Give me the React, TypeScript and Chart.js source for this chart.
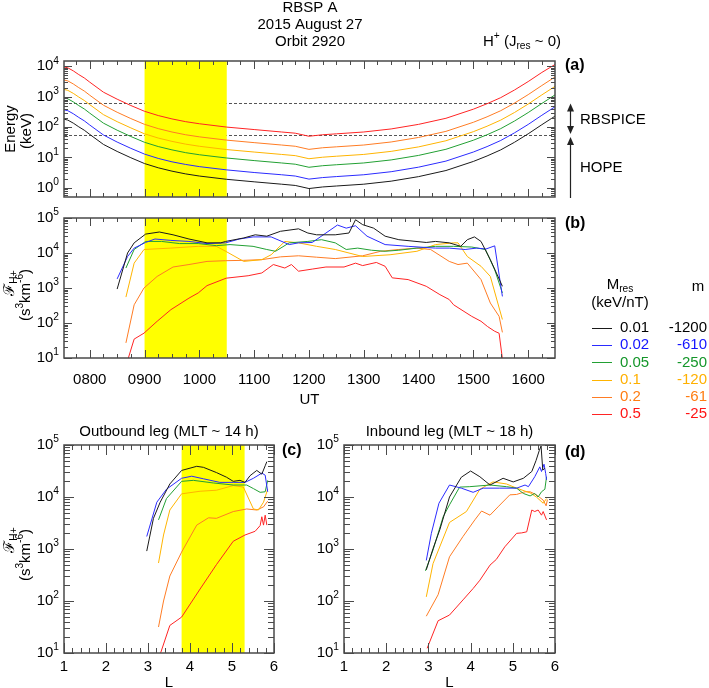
import React, { useEffect, useRef } from 'react';
import { Chart, registerables } from 'chart.js';

Chart.register(...registerables);

const W = 709;
const H = 688;
const FONT = '"Liberation Sans", Arial, Helvetica, sans-serif';
const AXIS = '#4a4a4a';

const SERIES_COLORS = ['#1a1a1a', '#2b2bff', '#22a033', '#ffb400', '#ff7c24', '#ff2424'];
const TEXT_COLORS = ['#000000', '#1414ff', '#14962a', '#ffb000', '#ff7d12', '#ff1414'];
const mresLabels = ['0.01', '0.02', '0.05', '0.1', '0.2', '0.5'];
const mLabels = ['-1200', '-610', '-250', '-120', '-61', '-25'];

// instrument energy limits (keV)
const RBSPICE_HIGH = 600;
const RBSPICE_LOW = 55;

// ---------- Panel (a): resonant energy vs UT ----------
const utA = [7.53, 7.6, 7.7, 7.8, 7.9, 8.0, 8.25, 8.5, 8.75, 9.0, 9.25, 9.5, 9.75, 10.0, 10.5, 11.0, 11.5, 11.75, 12.0, 12.25, 12.5, 13.0, 13.5, 14.0, 14.5, 15.0, 15.25, 15.5, 15.75, 16.0, 16.25, 16.49];
const eA001 = [182, 170, 135, 102, 79, 57.5, 26.9, 15.8, 9.8, 6.3, 4.57, 3.55, 2.88, 2.45, 1.91, 1.58, 1.32, 1.2, 0.95, 1.07, 1.15, 1.32, 1.66, 2.34, 3.72, 7.4, 11.2, 17.8, 31.6, 60, 120, 229];
const eA002 = [371, 347, 275, 208, 161, 117, 55, 32.2, 20, 12.9, 9.3, 7.2, 5.9, 5.0, 3.9, 3.2, 2.7, 2.45, 1.94, 2.18, 2.35, 2.7, 3.4, 4.8, 7.6, 15.1, 22.8, 36.3, 64.5, 122, 245, 467];
const eA005 = [912, 852, 676, 511, 396, 288, 135, 79, 49, 31.6, 22.9, 17.8, 14.4, 12.3, 9.6, 7.9, 6.6, 6.0, 4.76, 5.36, 5.76, 6.6, 8.3, 11.7, 18.6, 37, 56, 89, 158, 300, 600, 1150];
const eA01 = [1740, 1620, 1290, 974, 754, 549, 257, 151, 94, 60, 43.6, 33.9, 27.5, 23.4, 18.2, 15.1, 12.6, 11.5, 9.1, 10.2, 11.0, 12.6, 15.9, 22.3, 35.5, 70.7, 107, 170, 302, 573, 1150, 2190];
const eA02 = [3550, 3320, 2630, 1990, 1540, 1120, 525, 308, 191, 123, 89, 69, 56, 47.8, 37.2, 30.8, 25.7, 23.4, 18.5, 20.9, 22.4, 25.7, 32.4, 45.6, 72.5, 144, 218, 347, 616, 1170, 2340, 4470];
const eA05 = [9550, 8930, 7090, 5350, 4150, 3020, 1410, 830, 514, 331, 240, 186, 151, 129, 100, 83, 69, 63, 50, 56, 60, 69, 87, 123, 195, 389, 588, 934, 1660, 3150, 6300, 11500];

// ---------- Panel (b): PSD vs UT ----------
const utB001 = [8.50, 8.69, 8.81, 9.02, 9.27, 9.52, 9.81, 10.14, 10.39, 10.48, 10.81, 11.02, 11.23, 11.48, 11.81, 11.98, 12.14, 12.48, 12.73, 12.85, 12.98, 13.18, 13.39, 13.64, 14.14, 14.31, 14.56, 14.77, 14.89, 15.02, 15.14, 15.31, 15.53];
const fB001 = [933, 10000, 19500, 34700, 39800, 33100, 25100, 19500, 19500, 21400, 26900, 33100, 30200, 41700, 49000, 37200, 33100, 33100, 37200, 89100, 64600, 51300, 30200, 24000, 20000, 21400, 19500, 15500, 24000, 28800, 21400, 6460, 1120];
const utB002 = [8.50, 8.69, 8.81, 9.02, 9.19, 9.48, 9.81, 10.14, 10.48, 10.73, 10.98, 11.31, 11.64, 11.81, 12.06, 12.31, 12.52, 12.68, 12.85, 13.06, 13.39, 13.81, 14.31, 14.56, 14.85, 15.06, 15.23, 15.39, 15.53];
const fB002 = [1820, 7940, 13800, 20000, 25100, 22900, 21400, 18600, 19500, 25100, 28800, 28800, 17400, 19500, 20000, 37200, 63000, 51300, 60000, 30200, 17400, 15500, 13800, 13800, 12600, 13800, 13000, 16000, 575];
const utB005 = [8.66, 8.81, 9.02, 9.31, 9.64, 9.98, 10.31, 10.56, 10.98, 11.23, 11.39, 11.64, 11.98, 12.23, 12.48, 12.68, 12.89, 13.14, 13.39, 13.64, 13.97, 14.31, 14.64, 14.97, 15.22, 15.39, 15.53];
const fB005 = [3720, 12600, 21400, 21400, 18600, 18600, 16200, 17400, 15500, 12600, 11200, 19500, 21400, 24000, 19500, 12600, 13800, 12000, 11200, 12000, 13800, 15500, 15500, 14800, 12600, 3310, 724];
const utB01 = [8.66, 8.81, 8.99, 9.48, 9.98, 10.31, 10.48, 10.81, 11.14, 11.31, 11.56, 11.81, 12.14, 12.48, 12.98, 13.48, 13.97, 14.31, 14.64, 14.72, 14.89, 15.14, 15.31, 15.53];
const fB01 = [550, 5130, 12600, 13800, 15500, 15500, 11200, 5750, 6460, 8910, 21400, 19500, 15500, 12600, 7940, 8910, 11200, 17400, 19500, 19500, 7940, 4170, 2140, 126];
const utB02 = [8.66, 8.81, 8.99, 9.23, 9.52, 9.81, 10.14, 10.48, 10.81, 11.14, 11.48, 11.81, 12.14, 12.48, 12.98, 13.31, 13.64, 13.97, 14.22, 14.56, 14.72, 14.89, 15.14, 15.31, 15.47, 15.53];
const fB02 = [27, 331, 1000, 2140, 3980, 4680, 5750, 6030, 6170, 6460, 7760, 8320, 7590, 6920, 8320, 11200, 12600, 13800, 12600, 5750, 4680, 5130, 1740, 372, 155, 54];
const utB05 = [8.70, 8.81, 8.99, 9.23, 9.48, 9.81, 9.98, 10.14, 10.49, 10.89, 11.14, 11.35, 11.56, 11.68, 11.81, 12.06, 12.31, 12.64, 12.85, 12.98, 13.23, 13.39, 13.52, 13.81, 14.14, 14.39, 14.56, 14.64, 14.97, 15.14, 15.26, 15.39, 15.47, 15.53];
const fB05 = [9.5, 34.7, 51.3, 112, 240, 513, 724, 1170, 1910, 2240, 2690, 4680, 3720, 4680, 3020, 3470, 3980, 3980, 5130, 4370, 5370, 4170, 1950, 1740, 1120, 646, 468, 331, 155, 112, 79, 58, 51, 9.5];

// ---------- Panel (c): outbound PSD vs L ----------
const lC001 = [2.97, 3.13, 3.29, 3.52, 3.80, 4.16, 4.32, 4.63, 4.87, 5.03, 5.19, 5.31, 5.43, 5.59, 5.71, 5.79, 5.83];
const fC001 = [912, 3890, 7940, 17800, 32400, 38900, 37200, 29500, 24000, 20000, 20900, 19100, 25700, 32400, 27500, 39800, 47900];
const lC002 = [2.97, 3.21, 3.44, 3.80, 4.04, 4.32, 4.71, 5.03, 5.31, 5.51, 5.71, 5.79, 5.85];
const fC002 = [1740, 7940, 14100, 22900, 25100, 22400, 19100, 19100, 19100, 22900, 28800, 26300, 12600];
const lC005 = [3.25, 3.44, 3.80, 4.08, 4.56, 5.03, 5.35, 5.51, 5.67, 5.79, 5.85];
const fC005 = [3630, 9330, 20000, 20900, 18600, 17000, 17000, 14500, 12300, 12600, 20900];
const lC01 = [3.25, 3.37, 3.52, 3.80, 4.24, 4.63, 5.03, 5.27, 5.51, 5.63, 5.75, 5.85];
const fC01 = [537, 1860, 5620, 11500, 12900, 13500, 16600, 15500, 5890, 5620, 7940, 14100];
const lC02 = [3.25, 3.37, 3.52, 3.80, 4.16, 4.44, 4.63, 5.03, 5.35, 5.59, 5.75, 5.85];
const fC02 = [31.6, 100, 302, 871, 2880, 3980, 3890, 5250, 5890, 5620, 6460, 8320];
const lC05 = [3.30, 3.52, 3.80, 4.24, 4.63, 5.03, 5.31, 5.55, 5.67, 5.71, 5.75, 5.79, 5.83];
const fC05 = [10, 33.9, 49, 170, 501, 1410, 1860, 2190, 2820, 4170, 2880, 4470, 2880];

// ---------- Panel (d): inbound PSD vs L ----------
const lD001 = [2.95, 3.11, 3.27, 3.50, 3.78, 4.00, 4.22, 4.46, 4.77, 5.01, 5.25, 5.45, 5.55, 5.63, 5.67, 5.71, 5.76];
const fD001 = [398, 1020, 2340, 10000, 24000, 31600, 24500, 17000, 22900, 19500, 22900, 30900, 50100, 79400, 95500, 33100, 35500];
const lD002 = [2.95, 3.07, 3.25, 3.50, 3.78, 4.06, 4.30, 4.69, 5.09, 5.29, 5.37, 5.52, 5.64, 5.68, 5.74, 5.78, 5.80];
const fD002 = [603, 2000, 7590, 17000, 14800, 12300, 14800, 14800, 14800, 17000, 15800, 24500, 38000, 30900, 42700, 28200, 21400];
const lD005 = [2.93, 3.11, 3.35, 3.50, 3.74, 3.98, 4.46, 4.85, 5.09, 5.25, 5.41, 5.52, 5.60, 5.68, 5.76, 5.80];
const fD005 = [380, 955, 4170, 7080, 15500, 15800, 17000, 15800, 14800, 11700, 10500, 11700, 10000, 12600, 14100, 24500];
const lD01 = [2.95, 3.11, 3.50, 3.90, 4.22, 4.53, 4.85, 5.09, 5.41, 5.56, 5.72, 5.80];
const fD01 = [120, 525, 3240, 5250, 14100, 19500, 17800, 14800, 12000, 10000, 7590, 9330];
const lD02 = [2.95, 3.23, 3.50, 3.82, 4.10, 4.26, 4.46, 4.65, 4.93, 5.09, 5.29, 5.41, 5.56, 5.72, 5.79, 5.82];
const fD02 = [51, 132, 708, 1740, 3630, 5370, 4470, 6460, 11000, 11200, 12600, 12600, 11000, 8710, 6760, 8910];
const lD05 = [2.97, 3.23, 3.50, 3.82, 4.06, 4.22, 4.46, 4.61, 4.81, 5.09, 5.21, 5.33, 5.45, 5.52, 5.60, 5.68, 5.72, 5.80];
const fD05 = [12.3, 41.7, 53.7, 105, 174, 251, 490, 631, 1100, 2000, 2040, 2140, 5620, 5250, 5620, 4470, 5250, 3630];

// ---------- tick definitions ----------
const utMajor = [8, 9, 10, 11, 12, 13, 14, 15, 16];
const lMajor = [1, 2, 3, 4, 5, 6];

type Seg = { t: string; s?: 'sup' | 'sub' };

function drawRich(ctx: CanvasRenderingContext2D, segs: Seg[], x: number, y: number, size: number, align: 'left' | 'center' | 'right', color: string, bold = false) {
  const fsz = (s?: string) => (s ? size * 0.68 : size);
  const font = (s?: string) => `${bold ? 'bold ' : ''}${fsz(s)}px ${FONT}`;
  let total = 0;
  for (const g of segs) {
    ctx.font = font(g.s);
    total += ctx.measureText(g.t).width;
  }
  let cx = align === 'left' ? x : align === 'center' ? x - total / 2 : x - total;
  ctx.fillStyle = color;
  ctx.textBaseline = 'middle';
  ctx.textAlign = 'left';
  for (const g of segs) {
    ctx.font = font(g.s);
    const dy = g.s === 'sup' ? -size * 0.36 : g.s === 'sub' ? size * 0.3 : 0;
    ctx.fillText(g.t, cx, y + dy);
    cx += ctx.measureText(g.t).width;
  }
}

function drawRotated(ctx: CanvasRenderingContext2D, segs: Seg[], x: number, y: number, size: number) {
  ctx.save();
  ctx.translate(x, y);
  ctx.rotate(-Math.PI / 2);
  drawRich(ctx, segs, 0, 0, size, 'center', '#000');
  ctx.restore();
}

const PSD_TITLE: Seg[] = [{ t: 'ℱ' }, { t: 'H+', s: 'sub' }];
const PSD_UNIT: Seg[] = [{ t: '(s' }, { t: '3', s: 'sup' }, { t: 'km' }, { t: '-6', s: 'sup' }, { t: ')' }];

function logMinors(minExp: number, maxExp: number, lo: number, hi: number) {
  const out: number[] = [];
  for (let e = minExp; e <= maxExp; e++) {
    for (let k = 2; k <= 9; k++) {
      const v = k * Math.pow(10, e);
      if (v > lo && v < hi) out.push(v);
    }
  }
  return out;
}

function steps(a: number, b: number, st: number, skip: number[]) {
  const out: number[] = [];
  for (let v = a; v <= b + 1e-9; v += st) {
    const r = Math.round(v * 1000) / 1000;
    if (!skip.some((s) => Math.abs(s - r) < 1e-6)) out.push(r);
  }
  return out;
}

interface SeriesSpec { x: number[]; y: number[]; color: string }
interface PanelSpec {
  box: [number, number, number, number];
  xMin: number; xMax: number; yMin: number; yMax: number;
  series: SeriesSpec[];
  band?: [number, number];
  hlines?: number[];
  xMajor: number[]; xMinor: number[];
  xFmt?: (v: number) => string; xLabelY?: number;
  yExp: number[]; yMinor: number[];
  majLen: number; minLen: number; xMinLen: number;
  extra?: (ctx: CanvasRenderingContext2D, chart: any) => void;
}

function mk(xs: number[][], ys: number[][]): SeriesSpec[] {
  return xs.map((x, i) => ({ x, y: ys[i], color: SERIES_COLORS[i] }));
}

function arrowHead(ctx: CanvasRenderingContext2D, x: number, y: number, dir: number) {
  ctx.beginPath();
  ctx.moveTo(x, y);
  ctx.lineTo(x - 3.5, y + dir * 8);
  ctx.lineTo(x + 3.5, y + dir * 8);
  ctx.closePath();
  ctx.fill();
}

const specA: PanelSpec = {
  box: [64, 61, 555, 197],
  xMin: 7.53, xMax: 16.49, yMin: 0.5, yMax: 15000,
  series: mk([utA, utA, utA, utA, utA, utA], [eA001, eA002, eA005, eA01, eA02, eA05]),
  band: [9.0, 10.5],
  hlines: [RBSPICE_HIGH, RBSPICE_LOW],
  xMajor: utMajor, xMinor: steps(7.75, 16.25, 0.25, utMajor),
  yExp: [0, 1, 2, 3, 4], yMinor: logMinors(-1, 4, 0.5, 15000),
  majLen: 8, minLen: 4, xMinLen: 4,
  extra: (ctx, chart) => {
    const a = chart.chartArea;
    const ys = chart.scales.y;
    drawRich(ctx, [{ t: 'RBSP A' }], 310, 8, 15, 'center', '#000');
    drawRich(ctx, [{ t: '2015 August 27' }], 310, 25, 15, 'center', '#000');
    drawRich(ctx, [{ t: 'Orbit 2920' }], 310, 42, 15, 'center', '#000');
    drawRich(ctx, [{ t: 'H' }, { t: '+', s: 'sup' }, { t: ' (J' }, { t: 'res', s: 'sub' }, { t: ' ~ 0)' }], 483, 42, 15, 'left', '#000');
    drawRich(ctx, [{ t: '(a)' }], 565, 66, 16, 'left', '#000', true);
    drawRotated(ctx, [{ t: 'Energy' }], 11, 129, 15);
    drawRotated(ctx, [{ t: '(keV)' }], 27, 131, 15);
    const yHi = ys.getPixelForValue(RBSPICE_HIGH);
    const yLo = ys.getPixelForValue(RBSPICE_LOW);
    const ax = 570.5;
    ctx.strokeStyle = '#222';
    ctx.fillStyle = '#222';
    ctx.lineWidth = 1.2;
    ctx.beginPath();
    ctx.moveTo(ax, yHi + 4);
    ctx.lineTo(ax, yLo - 4);
    ctx.moveTo(ax, yLo + 6);
    ctx.lineTo(ax, a.bottom + 1);
    ctx.stroke();
    arrowHead(ctx, ax, yHi, 1);
    arrowHead(ctx, ax, yLo - 1, -1);
    arrowHead(ctx, ax, yLo + 2, 1);
    drawRich(ctx, [{ t: 'RBSPICE' }], 580, 120, 15, 'left', '#000');
    drawRich(ctx, [{ t: 'HOPE' }], 580, 168, 15, 'left', '#000');
  },
};

const specB: PanelSpec = {
  box: [64, 218, 555, 358],
  xMin: 7.53, xMax: 16.49, yMin: 10, yMax: 100000,
  series: mk([utB001, utB002, utB005, utB01, utB02, utB05], [fB001, fB002, fB005, fB01, fB02, fB05]),
  band: [9.0, 10.5],
  xMajor: utMajor, xMinor: steps(7.75, 16.25, 0.25, utMajor),
  xFmt: (v) => String(Math.round(v * 100)).padStart(4, '0'), xLabelY: 380,
  yExp: [1, 2, 3, 4, 5], yMinor: logMinors(1, 4, 10, 100000),
  majLen: 8, minLen: 4, xMinLen: 4,
  extra: (ctx) => {
    drawRich(ctx, [{ t: '(b)' }], 565, 224, 16, 'left', '#000', true);
    drawRich(ctx, [{ t: 'UT' }], 309.5, 400, 15, 'center', '#000');
    drawRotated(ctx, PSD_TITLE, 10, 283, 15);
    drawRotated(ctx, PSD_UNIT, 26, 295, 15);
    drawRich(ctx, [{ t: 'M' }, { t: 'res', s: 'sub' }], 620, 285, 15, 'center', '#000');
    drawRich(ctx, [{ t: '(keV/nT)' }], 620, 303, 15, 'center', '#000');
    drawRich(ctx, [{ t: 'm' }], 698, 287, 15, 'center', '#000');
    for (let i = 0; i < mresLabels.length; i++) {
      const y = 328 + i * 17.2;
      ctx.strokeStyle = SERIES_COLORS[i];
      ctx.lineWidth = 1;
      ctx.beginPath();
      ctx.moveTo(592, Math.round(y) + 0.5);
      ctx.lineTo(612, Math.round(y) + 0.5);
      ctx.stroke();
      drawRich(ctx, [{ t: mresLabels[i] }], 620, y, 15, 'left', TEXT_COLORS[i]);
      drawRich(ctx, [{ t: mLabels[i] }], 707, y, 15, 'right', TEXT_COLORS[i]);
    }
  },
};

const specC: PanelSpec = {
  box: [64, 445, 274, 653],
  xMin: 1, xMax: 6, yMin: 10, yMax: 100000,
  series: mk([lC001, lC002, lC005, lC01, lC02, lC05], [fC001, fC002, fC005, fC01, fC02, fC05]),
  band: [3.8, 5.3],
  xMajor: lMajor, xMinor: steps(1.2, 5.8, 0.2, lMajor),
  xFmt: (v) => String(v), xLabelY: 667,
  yExp: [1, 2, 3, 4, 5], yMinor: logMinors(1, 4, 10, 100000),
  majLen: 10, minLen: 6, xMinLen: 5,
  extra: (ctx) => {
    drawRich(ctx, [{ t: 'Outbound leg (MLT ~ 14 h)' }], 169, 432, 15, 'center', '#000');
    drawRich(ctx, [{ t: '(c)' }], 282, 451, 16, 'left', '#000', true);
    drawRich(ctx, [{ t: 'L' }], 169, 683, 15, 'center', '#000');
    drawRotated(ctx, PSD_TITLE, 10, 540, 15);
    drawRotated(ctx, PSD_UNIT, 26, 555, 15);
  },
};

const specD: PanelSpec = {
  box: [344, 445, 555, 653],
  xMin: 1, xMax: 6, yMin: 10, yMax: 100000,
  series: mk([lD001, lD002, lD005, lD01, lD02, lD05], [fD001, fD002, fD005, fD01, fD02, fD05]),
  xMajor: lMajor, xMinor: steps(1.2, 5.8, 0.2, lMajor),
  xFmt: (v) => String(v), xLabelY: 667,
  yExp: [1, 2, 3, 4, 5], yMinor: logMinors(1, 4, 10, 100000),
  majLen: 10, minLen: 6, xMinLen: 5,
  extra: (ctx) => {
    drawRich(ctx, [{ t: 'Inbound leg (MLT ~ 18 h)' }], 449.5, 432, 15, 'center', '#000');
    drawRich(ctx, [{ t: '(d)' }], 565, 453, 16, 'left', '#000', true);
    drawRich(ctx, [{ t: 'L' }], 449.5, 683, 15, 'center', '#000');
  },
};

function makeDeco(spec: PanelSpec) {
  return {
    id: 'deco',
    beforeDatasetsDraw(chart: any) {
      const ctx: CanvasRenderingContext2D = chart.ctx;
      const a = chart.chartArea;
      const xs = chart.scales.x;
      const ys = chart.scales.y;
      ctx.save();
      if (spec.hlines) {
        ctx.strokeStyle = '#555';
        ctx.lineWidth = 1;
        ctx.setLineDash([3, 2]);
        ctx.beginPath();
        for (const v of spec.hlines) {
          const py = Math.round(ys.getPixelForValue(v)) + 0.5;
          ctx.moveTo(a.left, py);
          ctx.lineTo(a.right, py);
        }
        ctx.stroke();
        ctx.setLineDash([]);
      }
      if (spec.band) {
        const x0 = xs.getPixelForValue(spec.band[0]);
        const x1 = xs.getPixelForValue(spec.band[1]);
        ctx.fillStyle = '#ffff00';
        ctx.fillRect(x0, a.top, x1 - x0, a.bottom - a.top);
      }
      ctx.restore();
    },
    afterDatasetsDraw(chart: any) {
      const ctx: CanvasRenderingContext2D = chart.ctx;
      const a = chart.chartArea;
      const xs = chart.scales.x;
      const ys = chart.scales.y;
      ctx.save();
      ctx.strokeStyle = AXIS;
      ctx.lineWidth = 1;
      ctx.beginPath();
      const xt = (v: number, len: number) => {
        const px = Math.round(xs.getPixelForValue(v)) + 0.5;
        ctx.moveTo(px, a.bottom);
        ctx.lineTo(px, a.bottom - len);
        ctx.moveTo(px, a.top);
        ctx.lineTo(px, a.top + len);
      };
      const yt = (v: number, len: number) => {
        const py = Math.round(ys.getPixelForValue(v)) + 0.5;
        ctx.moveTo(a.left, py);
        ctx.lineTo(a.left + len, py);
        ctx.moveTo(a.right, py);
        ctx.lineTo(a.right - len, py);
      };
      spec.xMajor.forEach((v) => xt(v, spec.majLen));
      spec.xMinor.forEach((v) => xt(v, spec.xMinLen));
      spec.yExp.forEach((e) => yt(Math.pow(10, e), spec.majLen));
      spec.yMinor.forEach((v) => yt(v, spec.minLen));
      ctx.stroke();
      ctx.lineWidth = 1.5;
      ctx.strokeRect(a.left, a.top, a.right - a.left, a.bottom - a.top);
      // y tick labels
      for (const e of spec.yExp) {
        const py = ys.getPixelForValue(Math.pow(10, e));
        drawRich(ctx, [{ t: '10' }, { t: String(e), s: 'sup' }], a.left - 5, py, 15, 'right', '#000');
      }
      if (spec.xFmt && spec.xLabelY) {
        for (const v of spec.xMajor) {
          const px = xs.getPixelForValue(v);
          drawRich(ctx, [{ t: spec.xFmt(v) }], px, spec.xLabelY, 15, 'center', '#000');
        }
      }
      if (spec.extra) spec.extra(ctx, chart);
      ctx.restore();
    },
  };
}

function Panel({ spec }: { spec: PanelSpec }) {
  const ref = useRef<HTMLCanvasElement>(null);
  useEffect(() => {
    const canvas = ref.current;
    if (!canvas) return;
    const [l, t, r, b] = spec.box;
    const chart = new Chart(canvas, {
      type: 'line',
      data: {
        datasets: spec.series.map((s) => ({
          data: s.x.map((x, i) => ({ x, y: s.y[i] })),
          borderColor: s.color,
          borderWidth: 1,
          pointRadius: 0,
          fill: false,
          tension: 0,
        })),
      },
      options: {
        animation: false,
        responsive: false,
        devicePixelRatio: 1,
        events: [],
        layout: { padding: { left: l, top: t, right: W - r, bottom: H - b } },
        plugins: { legend: { display: false }, tooltip: { enabled: false }, title: { display: false } },
        scales: {
          x: { type: 'linear', min: spec.xMin, max: spec.xMax, display: false },
          y: { type: 'logarithmic', min: spec.yMin, max: spec.yMax, display: false },
        },
      } as any,
      plugins: [makeDeco(spec)],
    });
    return () => chart.destroy();
  }, [spec]);
  return <canvas ref={ref} width={W} height={H} style={{ position: 'absolute', left: 0, top: 0 }} />;
}

export default function App() {
  return (
    <div style={{ position: 'absolute', left: 0, top: 0, width: W, height: H, background: '#ffffff', overflow: 'hidden' }}>
      <Panel spec={specA} />
      <Panel spec={specB} />
      <Panel spec={specC} />
      <Panel spec={specD} />
    </div>
  );
}
